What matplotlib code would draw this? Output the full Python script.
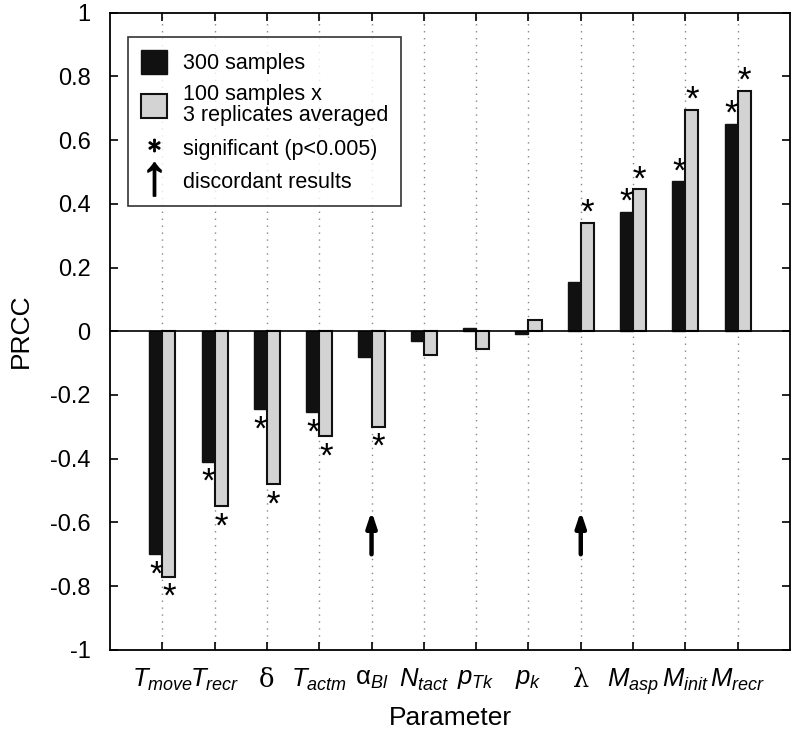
import numpy as np
import matplotlib.pyplot as plt
from matplotlib.patches import Patch
from matplotlib.lines import Line2D

plt.rcParams['font.family'] = ['Liberation Sans', 'DejaVu Sans']
plt.rcParams['mathtext.fontset'] = 'custom'
plt.rcParams['mathtext.it'] = 'Liberation Sans:italic'
plt.rcParams['mathtext.rm'] = 'Liberation Sans'

params = [r'$T_{move}$', r'$T_{recr}$', 'δ', r'$T_{actm}$', r'$\mathrm{\alpha}_{Bl}$',
          r'$N_{tact}$', r'$p_{Tk}$', r'$p_{k}$', 'λ', r'$M_{asp}$', r'$M_{init}$', r'$M_{recr}$']
prcc_300 = [-0.70, -0.41, -0.245, -0.255, -0.08, -0.03, 0.01, -0.01, 0.155, 0.375, 0.47, 0.65]
prcc_100x3 = [-0.77, -0.55, -0.48, -0.33, -0.30, -0.075, -0.055, 0.035, 0.34, 0.445, 0.695, 0.755]
sig_300 = [1, 1, 1, 1, 0, 0, 0, 0, 0, 1, 1, 1]
sig_100x3 = [1, 1, 1, 1, 1, 0, 0, 0, 1, 1, 1, 1]
discordant = [4, 8]   # alpha_Bl and lambda

x = np.arange(1, len(params) + 1)
w = 0.25

fig = plt.figure(figsize=(8, 7.41), dpi=100)
ax = fig.add_axes([0.1375, 0.123, 0.85, 0.860])

for xi in x:
    ax.axvline(xi, color='#888888', ls=(0, (1, 4)), lw=1, zorder=0)
ax.axhline(0, color='black', lw=1.2, zorder=3)

ax.bar(x - w / 2, prcc_300, w, color='#111111', edgecolor='#111111', lw=1, zorder=2)
ax.bar(x + w / 2, prcc_100x3, w, color='#d3d3d3', edgecolor='#111111', lw=1.5, zorder=2)

def star(xp, v):
    off = 0.03 if v > 0 else -0.065
    ax.text(xp, v + off, '*', ha='center', va='center', fontsize=25, zorder=4)

for i in range(len(params)):
    if sig_300[i]:
        star(x[i] - w / 2, prcc_300[i])
    if sig_100x3[i]:
        star(x[i] + w / 2, prcc_100x3[i])

for i in discordant:
    ax.annotate('', xy=(x[i], -0.565), xytext=(x[i], -0.70),
                arrowprops=dict(arrowstyle='-|>,head_width=0.3,head_length=0.9',
                                color='black', lw=3.2, shrinkA=0, shrinkB=0))

ax.set_xlim(0, 13)
ax.set_ylim(-1, 1)
ax.set_yticks(np.arange(-1, 1.01, 0.2))
ax.set_yticklabels(['-1', '-0.8', '-0.6', '-0.4', '-0.2', '0', '0.2', '0.4', '0.6', '0.8', '1'])
ax.set_xticks(x)
ax.set_xticklabels(params)
for lab in ax.get_xticklabels():
    if lab.get_text() in ('δ', 'λ'):
        lab.set_fontfamily('DejaVu Serif')
ax.tick_params(direction='in', top=True, right=True, length=6, width=1.2)
ax.tick_params(axis='y', labelsize=17, pad=14)
ax.tick_params(axis='x', labelsize=18.5, pad=12)
for s in ax.spines.values():
    s.set_linewidth(1.3)
ax.set_ylabel('PRCC', fontsize=19, labelpad=12)
ax.set_xlabel('Parameter', fontsize=19, labelpad=6)

handles = [
    Patch(facecolor='#111111', edgecolor='#111111'),
    Patch(facecolor='#d3d3d3', edgecolor='#111111', lw=1.5),
    Line2D([], [], ls='none', marker=r'$\ast$', color='black', markersize=9),
    Line2D([], [], ls='none', marker=r'$\uparrow$', color='black', markersize=24),
]
labels = ['300 samples', '100 samples x\n3 replicates averaged',
          'significant (p<0.005)', 'discordant results']
leg = ax.legend(handles, labels, loc='upper left', bbox_to_anchor=(0.0265, 0.961),
                borderaxespad=0, fontsize=15.5, frameon=True, fancybox=False,
                edgecolor='black', handlelength=1.2, handleheight=1.3,
                handletextpad=0.75, labelspacing=0.45, borderpad=0.6)
leg.get_frame().set_linewidth(1.2)
leg.get_texts()[1].set_linespacing(1.0)

fig.savefig('out.png', dpi=100)
